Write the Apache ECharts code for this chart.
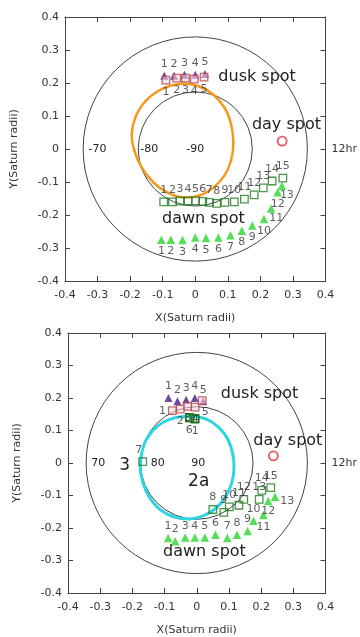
<!DOCTYPE html>
<html>
<head>
<meta charset="utf-8">
<script src="https://cdn.jsdelivr.net/npm/echarts@6/dist/echarts.min.js"></script>
<style>
  html, body { margin: 0; padding: 0; background: #fff; }
  #chart { width: 360px; height: 637px; }
</style>
</head>
<body>
<div id="chart"></div>
<script>
// ---- data (Saturn radii) ----
// latitude rings (-70 and -80 deg)
const ringRadii = [0.342, 0.174]

// top panel
const p1DuskTriX = [-0.095, -0.065, -0.033, 0.0, 0.03]
const p1DuskTriY = [0.222, 0.222, 0.225, 0.225, 0.227]
const p1DuskSqX = [-0.09, -0.057, -0.03, -0.003, 0.027]
const p1DuskSqY = [0.209, 0.215, 0.215, 0.212, 0.218]
const p1DawnSqX = [-0.097, -0.07, -0.047, -0.022, 0.001, 0.023, 0.043, 0.066, 0.091, 0.12, 0.151, 0.181, 0.209, 0.236, 0.269]
const p1DawnSqY = [-0.16, -0.16, -0.158, -0.157, -0.157, -0.159, -0.162, -0.165, -0.162, -0.16, -0.152, -0.139, -0.118, -0.097, -0.088]
const p1DawnTriX = [-0.104, -0.075, -0.039, 0.0, 0.033, 0.071, 0.108, 0.143, 0.175, 0.211, 0.233, 0.253, 0.266]
const p1DawnTriY = [-0.275, -0.275, -0.276, -0.268, -0.27, -0.268, -0.261, -0.248, -0.232, -0.212, -0.18, -0.131, -0.111]
const p1DaySpot = [0.267, 0.024]
// closed oval, points in order round the loop
const p1OvalX = [-0.04, 0.01, 0.055, 0.09, 0.11, 0.117, 0.11, 0.09, 0.058, 0.015, -0.035, -0.085, -0.13, -0.165, -0.187, -0.195, -0.183, -0.152, -0.1]
const p1OvalY = [0.198, 0.19, 0.165, 0.125, 0.075, 0.02, -0.035, -0.08, -0.115, -0.14, -0.147, -0.132, -0.1, -0.055, -0.005, 0.045, 0.098, 0.146, 0.183]

// bottom panel
const p2DuskTriX = [-0.088, -0.06, -0.033, -0.006, 0.02]
const p2DuskTriY = [0.2, 0.19, 0.195, 0.2, 0.19]
const p2DuskSqX = [-0.076, -0.051, -0.028, -0.005, 0.017]
const p2DuskSqY = [0.161, 0.166, 0.174, 0.172, 0.192]
const p2DawnSqX = [-0.005, -0.006, -0.022, -0.021, -0.006, -0.023, -0.168, 0.05, 0.084, 0.101, 0.131, 0.146, 0.194, 0.202, 0.23]
const p2DawnSqY = [0.136, 0.137, 0.14, 0.139, 0.135, 0.139, 0.004, -0.143, -0.152, -0.135, -0.13, -0.112, -0.112, -0.084, -0.076]
const p2DawnTriX = [-0.089, -0.067, -0.036, -0.006, 0.025, 0.058, 0.095, 0.125, 0.158, 0.176, 0.207, 0.222, 0.243]
const p2DawnTriY = [-0.231, -0.241, -0.229, -0.229, -0.229, -0.221, -0.231, -0.221, -0.209, -0.178, -0.16, -0.117, -0.104]
const p2DaySpot = [0.238, 0.022]
const p2OvalX = [-0.02, 0.03, 0.07, 0.098, 0.113, 0.115, 0.102, 0.074, 0.032, -0.022, -0.078, -0.124, -0.157, -0.174, -0.172, -0.155, -0.12, -0.072]
const p2OvalY = [0.144, 0.135, 0.108, 0.07, 0.022, -0.03, -0.08, -0.125, -0.157, -0.172, -0.163, -0.134, -0.087, -0.032, 0.025, 0.075, 0.115, 0.138]

const axisMin = -0.4
const axisMax = 0.4
const axisStep = 0.1

const FONT = 'DejaVu Sans'
const INK = '#333'

const chart = echarts.init(document.getElementById('chart'))

// build scatter points, label = index + 1, per-point label overrides
function points(xs, ys, overrides) {
  return xs.map((x, i) => {
    const item = { value: [x, ys[i]], name: String(i + 1) }
    if (overrides && overrides[i]) item.label = overrides[i]
    return item
  })
}

function axisBase(gridIndex) {
  return {
    type: 'value',
    gridIndex: gridIndex,
    min: axisMin,
    max: axisMax,
    interval: axisStep,
    axisLine: { show: true, onZero: false, lineStyle: { color: '#444', width: 1 } },
    axisTick: { show: true, inside: true, length: 5, lineStyle: { color: '#444' } },
    splitLine: { show: false },
    axisLabel: { fontSize: 11, color: INK, fontFamily: FONT }
  }
}

function xAxes(gridIndex) {
  return [
    Object.assign(axisBase(gridIndex), {
      position: 'bottom',
      name: 'X(Saturn radii)',
      nameLocation: 'middle',
      nameGap: 32,
      nameTextStyle: { fontSize: 11, color: INK, fontFamily: FONT },
      axisLabel: { fontSize: 11, color: INK, fontFamily: FONT, margin: 9 }
    }),
    Object.assign(axisBase(gridIndex), {
      position: 'top',
      axisLabel: { show: false }
    })
  ]
}

function yAxes(gridIndex) {
  return [
    Object.assign(axisBase(gridIndex), {
      position: 'left',
      name: 'Y(Saturn radii)',
      nameLocation: 'middle',
      nameGap: 45,
      nameTextStyle: { fontSize: 11, color: INK, fontFamily: FONT },
      axisLabel: { fontSize: 11, color: INK, fontFamily: FONT, margin: 6 }
    }),
    Object.assign(axisBase(gridIndex), {
      position: 'right',
      axisLabel: {
        fontSize: 11,
        color: INK,
        fontFamily: FONT,
        margin: 6,
        formatter: (v) => (Math.abs(v) < 1e-9 ? '12hr' : '')
      }
    })
  ]
}

const ptLabel = {
  show: true,
  formatter: '{b}',
  fontSize: 11,
  color: INK,
  fontFamily: FONT,
  distance: 2
}

function ringSeries(xi, yi) {
  return {
    type: 'custom',
    xAxisIndex: xi,
    yAxisIndex: yi,
    silent: true,
    data: ringRadii.map((r) => [r, 0]),
    renderItem(params, api) {
      const c = api.coord([0, 0])
      const s = api.size([api.value(0), api.value(0)])
      return {
        type: 'circle',
        shape: { cx: c[0], cy: c[1], r: (s[0] + s[1]) / 2 },
        style: { fill: 'none', stroke: '#444', lineWidth: 1 }
      }
    }
  }
}

// closed smooth loop: one bezier piece per point (catmull-rom through the read points)
function ovalSeries(xi, yi, xs, ys, color, width) {
  const pts = xs.map((x, i) => [x, ys[i]])
  const n = pts.length
  return {
    type: 'custom',
    xAxisIndex: xi,
    yAxisIndex: yi,
    silent: true,
    data: pts,
    renderItem(params, api) {
      const i = params.dataIndex
      const p = (k) => api.coord(pts[(k + n) % n])
      const p0 = p(i - 1), p1 = p(i), p2 = p(i + 1), p3 = p(i + 2)
      return {
        type: 'bezierCurve',
        shape: {
          x1: p1[0], y1: p1[1],
          x2: p2[0], y2: p2[1],
          cpx1: p1[0] + (p2[0] - p0[0]) / 6,
          cpy1: p1[1] + (p2[1] - p0[1]) / 6,
          cpx2: p2[0] - (p3[0] - p1[0]) / 6,
          cpy2: p2[1] - (p3[1] - p1[1]) / 6
        },
        style: { fill: 'none', stroke: color, lineWidth: width, lineCap: 'round' }
      }
    }
  }
}

// text notes on the plot
function noteSeries(xi, yi, notes) {
  return {
    type: 'custom',
    xAxisIndex: xi,
    yAxisIndex: yi,
    silent: true,
    z: 5,
    data: notes.map((n) => [n.x, n.y]),
    renderItem(params, api) {
      const n = notes[params.dataIndex]
      const p = api.coord([api.value(0), api.value(1)])
      return {
        type: 'text',
        x: p[0],
        y: p[1],
        style: {
          text: n.text,
          fontSize: n.size,
          fontFamily: FONT,
          fill: '#222',
          align: 'center',
          verticalAlign: 'middle'
        }
      }
    }
  }
}

function panelSeries(xi, yi, d) {
  return [
    ringSeries(xi, yi),
    ovalSeries(xi, yi, d.ovalX, d.ovalY, d.ovalColor, d.ovalWidth),
    {
      type: 'scatter',
      xAxisIndex: xi,
      yAxisIndex: yi,
      symbol: 'triangle',
      symbolSize: 8,
      itemStyle: { color: '#4b1a8a' },
      label: Object.assign({}, ptLabel, { position: 'top' }),
      data: d.duskTri
    },
    {
      type: 'scatter',
      xAxisIndex: xi,
      yAxisIndex: yi,
      symbol: 'rect',
      symbolSize: 7.5,
      itemStyle: { color: 'rgba(250,215,222,0.7)', borderColor: '#b4454f', borderWidth: 1.3 },
      label: Object.assign({}, ptLabel, { position: 'bottom' }),
      data: d.duskSq
    },
    {
      type: 'scatter',
      xAxisIndex: xi,
      yAxisIndex: yi,
      symbol: 'triangle',
      symbolSize: 8.5,
      itemStyle: { color: '#2ad62e' },
      label: Object.assign({}, ptLabel, { position: d.dawnTriPos }),
      data: d.dawnTri
    },
    {
      type: 'scatter',
      xAxisIndex: xi,
      yAxisIndex: yi,
      symbol: 'rect',
      symbolSize: 7.5,
      itemStyle: { color: 'rgba(255,255,255,0)', borderColor: '#1f7a1f', borderWidth: 1.3 },
      label: Object.assign({}, ptLabel, { position: 'top' }),
      data: d.dawnSq
    },
    {
      type: 'scatter',
      xAxisIndex: xi,
      yAxisIndex: yi,
      symbol: 'circle',
      symbolSize: 9,
      itemStyle: { color: 'rgba(255,255,255,0)', borderColor: '#e0303a', borderWidth: 1.8 },
      data: [d.day]
    },
    noteSeries(xi, yi, d.notes)
  ]
}

const hide = { show: false }

const topPanel = panelSeries(0, 0, {
  ovalX: p1OvalX,
  ovalY: p1OvalY,
  ovalColor: '#f39a1e',
  ovalWidth: 2.5,
  duskTri: points(p1DuskTriX, p1DuskTriY),
  duskSq: points(p1DuskSqX, p1DuskSqY),
  dawnSq: points(p1DawnSqX, p1DawnSqY),
  dawnTriPos: 'bottom',
  dawnTri: points(p1DawnTriX, p1DawnTriY, {
    10: { offset: [5, -2] },
    12: { offset: [5, -2] }
  }),
  day: p1DaySpot,
  notes: [
    { text: 'dusk spot', x: 0.19, y: 0.218, size: 16 },
    { text: 'day spot', x: 0.28, y: 0.073, size: 16 },
    { text: 'dawn spot', x: 0.025, y: -0.212, size: 16 },
    { text: '-70', x: -0.3, y: 0, size: 11 },
    { text: '-80', x: -0.141, y: 0, size: 11 },
    { text: '-90', x: 0, y: 0, size: 11 }
  ]
})

const bottomPanel = panelSeries(2, 2, {
  ovalX: p2OvalX,
  ovalY: p2OvalY,
  ovalColor: '#2fd6e2',
  ovalWidth: 3,
  duskTri: points(p2DuskTriX, p2DuskTriY),
  duskSq: points(p2DuskSqX, p2DuskSqY, {
    0: { position: 'left' },
    4: { position: 'bottom', offset: [3, 0] }
  }),
  dawnSq: points(p2DawnSqX, p2DawnSqY, {
    0: { position: 'bottom' },
    1: hide,
    2: hide,
    3: hide,
    4: hide,
    5: { position: 'bottom' },
    6: { position: 'top', offset: [-4, 0] }
  }),
  dawnTriPos: 'top',
  dawnTri: points(p2DawnTriX, p2DawnTriY, {
    10: { position: 'bottom' },
    11: { position: 'bottom', offset: [0, -2] },
    12: { position: 'right', offset: [-1, 4] }
  }),
  day: p2DaySpot,
  notes: [
    { text: 'dusk spot', x: 0.195, y: 0.213, size: 16 },
    { text: 'day spot', x: 0.283, y: 0.068, size: 16 },
    { text: 'dawn spot', x: 0.024, y: -0.274, size: 16 },
    { text: '70', x: -0.306, y: 0, size: 11 },
    { text: '80', x: -0.121, y: 0, size: 11 },
    { text: '90', x: 0.005, y: 0, size: 11 },
    { text: '3', x: -0.224, y: -0.009, size: 17 },
    { text: '2a', x: 0.006, y: -0.058, size: 17 }
  ]
})

chart.setOption({
  animation: false,
  backgroundColor: '#fff',
  textStyle: { fontFamily: FONT },
  grid: [
    { left: 65, top: 17, width: 267, height: 264 },
    { left: 68, top: 333, width: 264, height: 263 }
  ],
  xAxis: [...xAxes(0), ...xAxes(1)],
  yAxis: [...yAxes(0), ...yAxes(1)],
  series: [...topPanel, ...bottomPanel]
})
</script>
</body>
</html>
